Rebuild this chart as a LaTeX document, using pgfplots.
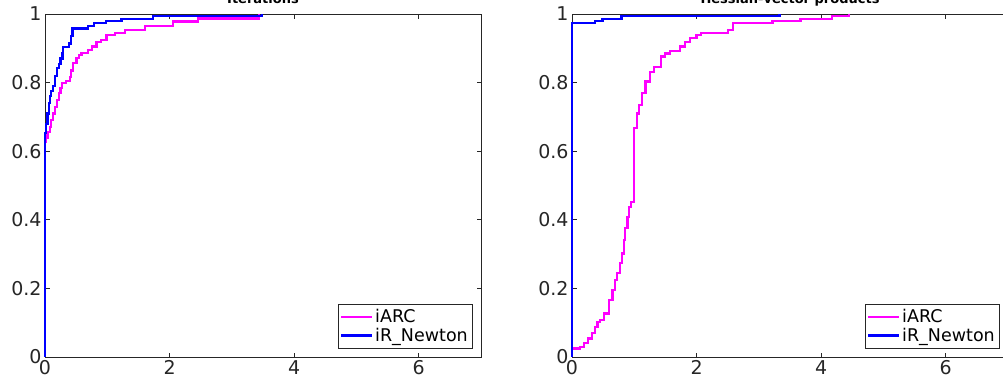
\documentclass[border=0pt]{standalone}
\usepackage{pgfplots}
\pgfplotsset{compat=1.18}
\usepackage{fontspec}
\setmainfont{DejaVu Sans}
\definecolor{axgray}{rgb}{0.15,0.15,0.15}
\definecolor{mag}{rgb}{1,0,1}
\definecolor{blu}{rgb}{0,0,1}
\pgfplotsset{
  pp/.style={
    scale only axis, width=436pt, height=343pt,
    xmin=0, xmax=7, ymin=0, ymax=1, clip=false,
    xtick={0,2,4,6}, xticklabels={0,2,4,6},
    ytick={0,0.2,0.4,0.6,0.8,1}, yticklabels={0,0.2,0.4,0.6,0.8,1},
    tick align=inside, major tick length=4.5pt,
    axis line style={axgray, line width=0.7pt},
    every tick/.style={axgray, line width=0.7pt},
    tick label style={font=\fontsize{19}{19}\selectfont, text=axgray},
    title style={at={(0.5,1)}, anchor=base, yshift=5pt, font=\bfseries\fontsize{13}{13}\selectfont},
    legend style={at={(1,0)}, anchor=south east, xshift=-9pt, yshift=9pt,
      draw=axgray, font=\fontsize{17.5}{18}\selectfont,
      inner xsep=2pt, inner ysep=3pt, row sep=0pt},
    legend cell align=left,
    legend image code/.code={\draw[#1] (0pt,0pt) -- (31pt,0pt);},
  },
  magl/.style={const plot, color=mag, line width=2.2pt, mark=none},
  blul/.style={const plot, color=blu, line width=2.2pt, mark=none},
}
\begin{document}
\begin{tikzpicture}
\begin{axis}[pp, at={(45pt,32pt)}, anchor=south west, title={Iterations}]
\addplot[magl] coordinates {(0,0.626) (0.016,0.64) (0.04,0.655) (0.08,0.671) (0.10,0.69) (0.13,0.71) (0.16,0.73) (0.19,0.75) (0.22,0.77) (0.25,0.785) (0.267,0.798) (0.336,0.805) (0.4,0.817) (0.42,0.835) (0.453,0.856) (0.507,0.871) (0.55,0.88) (0.587,0.887) (0.693,0.895) (0.75,0.905) (0.827,0.919) (0.9,0.925) (0.987,0.939) (1.12,0.945) (1.28,0.953) (1.6,0.965) (2.05,0.978) (2.45,0.987) (3.44,1.0)};
\addlegendentry{iARC}
\addplot[blul] coordinates {(0,0) (0,0.652) (0.02,0.68) (0.04,0.71) (0.06,0.74) (0.08,0.76) (0.1,0.775) (0.13,0.79) (0.16,0.82) (0.19,0.842) (0.22,0.855) (0.25,0.87) (0.28,0.885) (0.293,0.903) (0.389,0.914) (0.42,0.935) (0.443,0.958) (0.693,0.965) (0.784,0.973) (0.976,0.98) (1.227,0.985) (1.733,0.994) (3.49,1.0)};
\addlegendentry{iR\_Newton}
\end{axis}
\begin{axis}[pp, at={(572pt,32pt)}, anchor=south west, title={Hessian-vector products}]
\addplot[magl] coordinates {(0,0.025) (0.128,0.03) (0.19,0.04) (0.26,0.054) (0.32,0.069) (0.37,0.088) (0.41,0.103) (0.45,0.108) (0.52,0.127) (0.59,0.166) (0.65,0.195) (0.69,0.224) (0.72,0.244) (0.77,0.273) (0.80,0.302) (0.83,0.341) (0.85,0.375) (0.89,0.409) (0.91,0.438) (0.95,0.453) (0.99,0.477) (1.0,0.667) (1.04,0.71) (1.08,0.735) (1.13,0.769) (1.18,0.803) (1.25,0.832) (1.32,0.845) (1.43,0.876) (1.49,0.885) (1.57,0.893) (1.73,0.905) (1.81,0.919) (1.89,0.929) (2.0,0.939) (2.07,0.945) (2.5,0.953) (2.58,0.973) (3.22,0.98) (3.67,0.985) (4.18,0.994) (4.45,1.0)};
\addlegendentry{iARC}
\addplot[blul] coordinates {(0,0) (0,0.973) (0.368,0.98) (0.49,0.985) (0.795,0.994) (3.33,1.0)};
\addlegendentry{iR\_Newton}
\end{axis}
\pgfresetboundingbox
\path[use as bounding box] (0,0) rectangle (1003pt,389pt);
\end{tikzpicture}
\end{document}
